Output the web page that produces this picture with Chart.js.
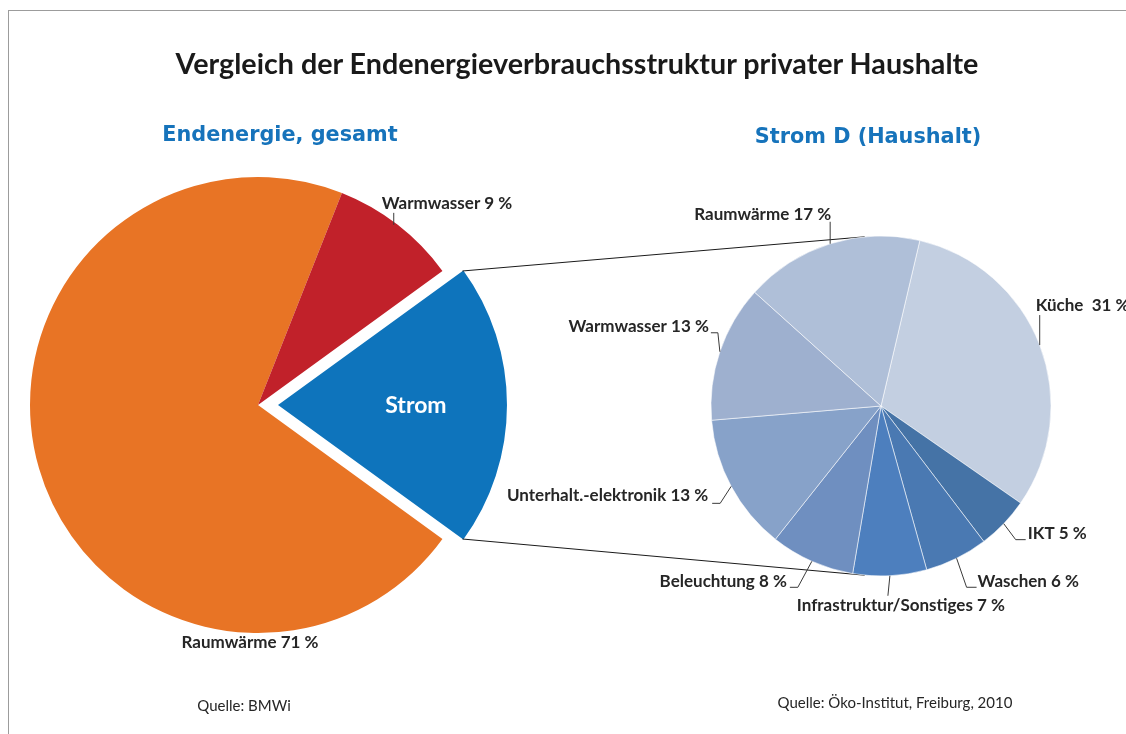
<!DOCTYPE html>
<html><head><meta charset="utf-8">
<script src="https://cdn.jsdelivr.net/npm/chart.js@4"></script>
<style>
html,body{margin:0;padding:0;background:#fff;}
#wrap{position:relative;width:1126px;height:734px;overflow:hidden;background:#fff;}
#frame{position:absolute;left:8px;top:10px;width:1130px;height:740px;border-top:1px solid #9c9c9c;border-left:1px solid #9c9c9c;}
canvas{position:absolute;left:0;top:0;}
.t{position:absolute;white-space:nowrap;transform:translate(-50%,-50%);line-height:1;}
#title{left:577px;top:63px;font:bold 28.7px Lato;color:#1a1a1a;}
.sub{font:bold 20.8px "DejaVu Sans";color:#1673bb;}
.src{font:15px Lato;color:#262626;}
</style></head>
<body><div id="wrap">
<div id="frame"></div>
<canvas id="left" width="1126" height="734"></canvas>
<canvas id="right" width="1126" height="734"></canvas>
<div class="t" id="title">Vergleich der Endenergieverbrauchsstruktur privater Haushalte</div>
<div class="t sub" style="left:280px;top:134px">Endenergie, gesamt</div>
<div class="t sub" style="left:868px;top:136px">Strom D (Haushalt)</div>
<div class="t src" style="left:244px;top:705px">Quelle: BMWi</div>
<div class="t src" style="left:895px;top:702px">Quelle: Öko-Institut, Freiburg, 2010</div>
</div>
<script>
// ---- data ----
const leftCategories = ['Strom', 'Raumwärme', 'Warmwasser'];
const leftValues = [20, 71, 9];
const leftLabels = ['Strom', 'Raumwärme 71 %', 'Warmwasser 9 %'];

const rightCategories = ['Küche', 'IKT', 'Waschen', 'Infrastruktur/Sonstiges', 'Beleuchtung', 'Unterhalt.-elektronik', 'Warmwasser', 'Raumwärme'];
const rightValues = [31, 5, 6, 7, 8, 13, 13, 17];
const rightLabels = ['Küche  31 %', 'IKT 5 %', 'Waschen 6 %', 'Infrastruktur/Sonstiges 7 %', 'Beleuchtung 8 %', 'Unterhalt.-elektronik 13 %', 'Warmwasser 13 %', 'Raumwärme 17 %'];

// ---- styles ----
const leftColors = ['#0e74bc', '#e87425', '#c1212a'];
const rightColors = ['#c3cfe1', '#4573a6', '#4a79b2', '#4d7fbe', '#6f8fc0', '#87a2c9', '#9eb0cf', '#afbfd8'];
const LABEL_FONT = 'bold 17px Lato';
const LABEL_COLOR = '#262626';
const LEADER_COLOR = '#3a3a3a';

// label layouts: leader steps and text offset relative to the slice's edge point at mid-angle
const rightLayout = [
  {pts: [[0, -30]], txt: [-4, -40], align: 'left'},
  {pts: [[12, 16], [22, 16]], txt: [24, 10], align: 'left'},
  {pts: [[10, 29], [20, 29]], txt: [21, 23], align: 'left'},
  {pts: [[-2, 20]], txt: [11, 30], align: 'center'},
  {pts: [[-14, 26], [-22, 26]], txt: [-25, 20], align: 'right'},
  {pts: [[-11, 17], [-19, 17]], txt: [-23, 9], align: 'right'},
  {pts: [[-2, -19], [-9, -19]], txt: [-11, -25], align: 'right'},
  {pts: [[0, -22]], txt: [1, -29], align: 'right'}
];

function edgePoint(arc, extraOffset) {
  const mid = (arc.startAngle + arc.endAngle) / 2;
  const o = extraOffset || 0;
  return {
    x: arc.x + Math.cos(mid) * (arc.outerRadius + o),
    y: arc.y + Math.sin(mid) * (arc.outerRadius + o),
    mid: mid
  };
}

function drawLeaderLabel(ctx, start, lay, text) {
  ctx.save();
  ctx.strokeStyle = LEADER_COLOR;
  ctx.lineWidth = 1;
  ctx.beginPath();
  ctx.moveTo(start.x, start.y);
  lay.pts.forEach(p => ctx.lineTo(start.x + p[0], start.y + p[1]));
  ctx.stroke();
  ctx.font = LABEL_FONT;
  ctx.fillStyle = LABEL_COLOR;
  ctx.textAlign = lay.align;
  ctx.textBaseline = 'middle';
  ctx.fillText(text, start.x + lay.txt[0], start.y + lay.txt[1]);
  ctx.restore();
}

const STROM_OFFSET = 80; // Chart.js arc offset (drawn shift = offset/4)

const leftLabelPlugin = {
  id: 'leftLabels',
  afterDatasetsDraw(chart) {
    const ctx = chart.ctx;
    const arcs = chart.getDatasetMeta(0).data;
    // Strom (exploded) - white label inside
    const s = arcs[0];
    const sm = (s.startAngle + s.endAngle) / 2;
    const d = STROM_OFFSET / 4 + s.outerRadius * 0.605;
    ctx.save();
    ctx.font = 'bold 23px Lato';
    ctx.fillStyle = '#ffffff';
    ctx.textAlign = 'center';
    ctx.textBaseline = 'middle';
    ctx.fillText(leftLabels[0], s.x + Math.cos(sm) * d, s.y + Math.sin(sm) * d + 1);
    // Raumwärme - below the pie
    ctx.font = LABEL_FONT;
    ctx.fillStyle = LABEL_COLOR;
    const r = arcs[1];
    ctx.fillText(leftLabels[1], r.x - 8, r.y + r.outerRadius + 10);
    ctx.restore();
    // Warmwasser - with short leader
    const w = arcs[2];
    const ep = edgePoint(w);
    drawLeaderLabel(ctx, {x: ep.x - 4, y: ep.y}, {pts: [[0, -12]], txt: [-12, -21], align: 'left'}, leftLabels[2]);
  }
};

const leftChart = new Chart(document.getElementById('left'), {
  type: 'pie',
  data: {
    labels: leftCategories,
    datasets: [{
      data: leftValues,
      backgroundColor: leftColors,
      borderWidth: 0,
      offset: [STROM_OFFSET, 0, 0]
    }]
  },
  options: {
    responsive: false,
    animation: false,
    devicePixelRatio: 1,
    rotation: 54,
    radius: 228,
    layout: {padding: {left: 28, right: 638, top: 175, bottom: 99}},
    plugins: {legend: {display: false}, tooltip: {enabled: false}, title: {display: false}}
  },
  plugins: [leftLabelPlugin]
});

const rightLabelPlugin = {
  id: 'rightLabels',
  beforeDatasetsDraw(chart) {
    // connector lines from the exploded Strom slice to the detail pie
    const ctx = chart.ctx;
    const s = leftChart.getDatasetMeta(0).data[0];
    const sm = (s.startAngle + s.endAngle) / 2;
    const ox = s.x + Math.cos(sm) * STROM_OFFSET / 4;
    const oy = s.y + Math.sin(sm) * STROM_OFFSET / 4;
    const R = s.outerRadius;
    const a = chart.getDatasetMeta(0).data[0];
    const tilt = 5.5 * Math.PI / 180;
    const topA = -Math.PI / 2 - tilt, botA = Math.PI / 2 + tilt;
    ctx.save();
    ctx.strokeStyle = '#1a1a1a';
    ctx.lineWidth = 1;
    ctx.beginPath();
    ctx.moveTo(ox + Math.cos(s.startAngle) * R, oy + Math.sin(s.startAngle) * R);
    ctx.lineTo(a.x + Math.cos(topA) * a.outerRadius, a.y + Math.sin(topA) * a.outerRadius);
    ctx.moveTo(ox + Math.cos(s.endAngle) * R, oy + Math.sin(s.endAngle) * R);
    ctx.lineTo(a.x + Math.cos(botA) * a.outerRadius, a.y + Math.sin(botA) * a.outerRadius);
    ctx.stroke();
    ctx.restore();
  },
  afterDatasetsDraw(chart) {
    const ctx = chart.ctx;
    chart.getDatasetMeta(0).data.forEach((arc, i) => {
      drawLeaderLabel(ctx, edgePoint(arc), rightLayout[i], rightLabels[i]);
    });
  }
};

new Chart(document.getElementById('right'), {
  type: 'pie',
  data: {
    labels: rightCategories,
    datasets: [{
      data: rightValues,
      backgroundColor: rightColors,
      borderColor: 'rgba(255,255,255,0.55)',
      borderWidth: 1
    }]
  },
  options: {
    responsive: false,
    animation: false,
    devicePixelRatio: 1,
    rotation: 13.2,
    radius: 170,
    layout: {padding: {left: 706, right: 70, top: 231, bottom: 153}},
    plugins: {legend: {display: false}, tooltip: {enabled: false}, title: {display: false}}
  },
  plugins: [rightLabelPlugin]
});
</script>
</body></html>
